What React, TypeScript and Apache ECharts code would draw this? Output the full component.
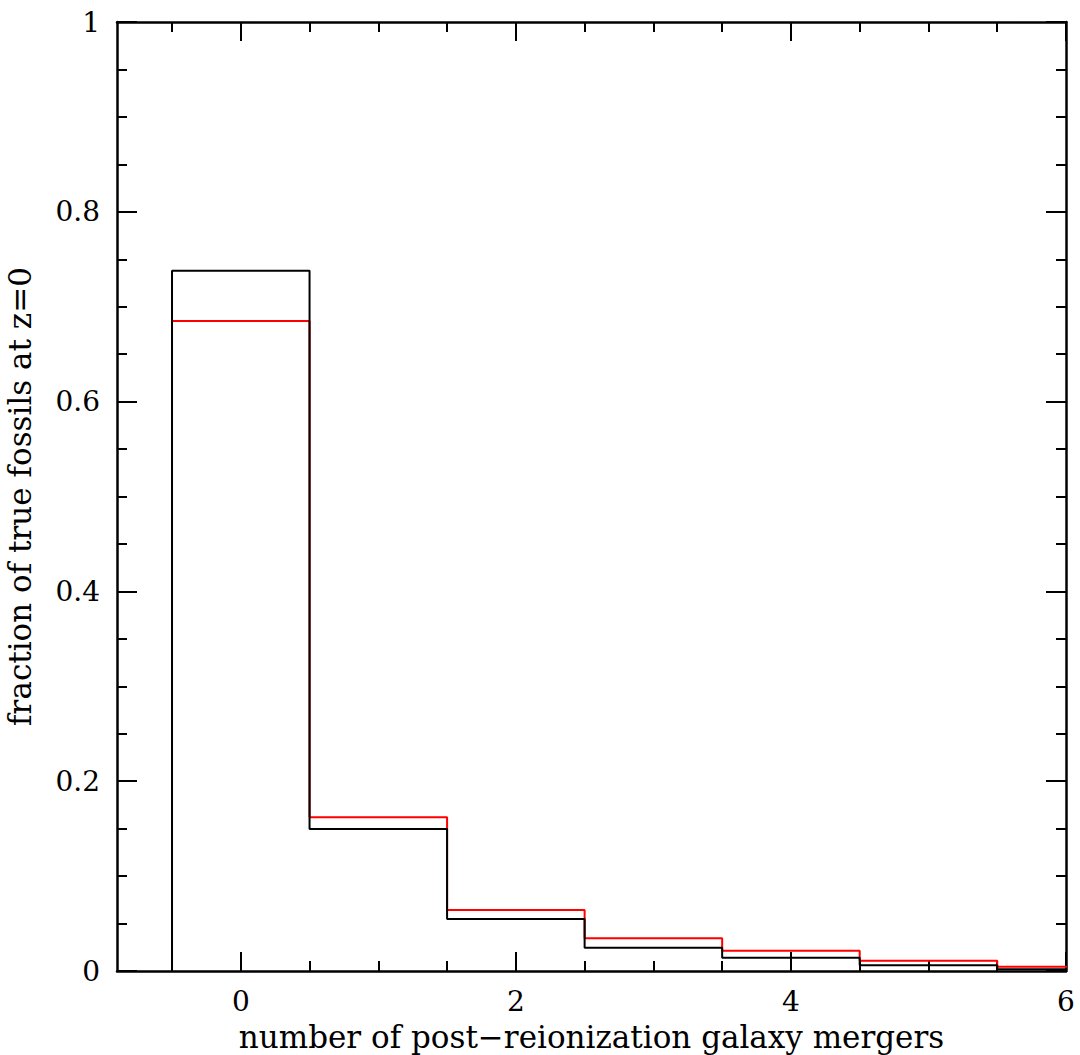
import React, { useEffect, useRef } from "react";
import * as echarts from "echarts";

const binCenters = [0, 1, 2, 3, 4, 5, 6];
const blackFractions = [0.738, 0.1496, 0.0548, 0.0246, 0.014, 0.006, 0.0018];
const redFractions = [0.685, 0.162, 0.0643, 0.0345, 0.0214, 0.0109, 0.0045];
const xMajorTicks = [0, 2, 4, 6];
const xMinorTicks = [-0.5, 0.5, 1, 1.5, 2.5, 3, 3.5, 4.5, 5, 5.5];
const xTitle = "number of post\u2212reionization galaxy mergers";
const yTitle = "fraction of true fossils at z=0";

function stepPoints(centers: number[], vals: number[]): number[][] {
  const pts: number[][] = [];
  pts.push([centers[0] - 0.5, 0]);
  centers.forEach((c, i) => {
    pts.push([c - 0.5, vals[i]]);
    pts.push([c + 0.5, vals[i]]);
  });
  return pts;
}

const FONT = "DejaVu Serif";

export default function App() {
  const ref = useRef<HTMLDivElement>(null);
  useEffect(() => {
    document.body.style.margin = "0";
    const chart = echarts.init(ref.current!, undefined, { renderer: "svg" });
    const lineStyle = { color: "#000", width: 2.5 };
    const baseX = (pos: string, major: boolean, showLine: boolean, showLabel: boolean) => ({
      type: "value",
      position: pos,
      min: -0.9,
      max: 6,
      splitLine: { show: false },
      axisLine: { show: showLine, onZero: false, lineStyle },
      axisTick: {
        show: true,
        inside: true,
        length: major ? 19 : 10,
        lineStyle: { color: "#000", width: 2 },
        customValues: major ? xMajorTicks : xMinorTicks,
      },
      axisLabel: {
        show: showLabel,
        customValues: xMajorTicks,
        color: "#000",
        fontFamily: FONT,
        fontSize: 28,
        margin: 16,
      },
    });
    const baseY = (pos: string, showLabel: boolean) => ({
      type: "value",
      position: pos,
      min: 0,
      max: 1,
      interval: 0.2,
      splitLine: { show: false },
      axisLine: { show: true, onZero: false, lineStyle },
      axisTick: { show: true, inside: true, length: 20, lineStyle: { color: "#000", width: 2 } },
      minorTick: { show: true, splitNumber: 4, length: 10, lineStyle: { color: "#000", width: 2 } },
      axisLabel: {
        show: showLabel,
        color: "#000",
        fontFamily: FONT,
        fontSize: 28,
        margin: 17,
      },
    });
    chart.setOption({
      animation: false,
      backgroundColor: "#fff",
      grid: { left: 117, right: 14, top: 22, bottom: 84, containLabel: false, outerBoundsMode: "none" },
      xAxis: [
        {
          ...baseX("bottom", true, true, true),
          name: xTitle,
          nameLocation: "middle",
          nameGap: 50,
          nameTextStyle: { color: "#000", fontFamily: FONT, fontSize: 31 },
        },
        baseX("bottom", false, false, false),
        baseX("top", true, true, false),
        baseX("top", false, false, false),
      ],
      yAxis: [
        {
          ...baseY("left", true),
          name: yTitle,
          nameLocation: "middle",
          nameGap: 82,
          nameTextStyle: { color: "#000", fontFamily: FONT, fontSize: 31 },
        },
        baseY("right", false),
      ],
      series: [
        {
          type: "line",
          name: "red",
          data: stepPoints(binCenters, redFractions),
          showSymbol: false,
          symbol: "none",
          lineStyle: { color: "#ff0000", width: 2 },
          clip: true,
        },
        {
          type: "line",
          name: "black",
          data: stepPoints(binCenters, blackFractions),
          showSymbol: false,
          symbol: "none",
          lineStyle: { color: "#000", width: 2 },
          clip: true,
        },
      ],
    });
    return () => chart.dispose();
  }, []);
  return <div ref={ref} style={{ width: 1080, height: 1055 }} />;
}
